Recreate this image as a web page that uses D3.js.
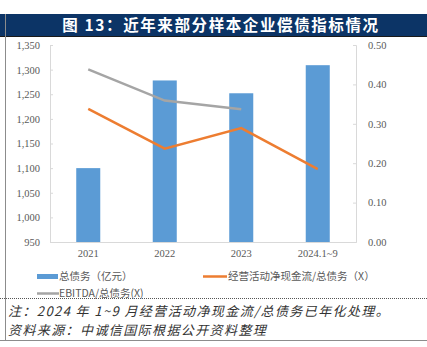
<!DOCTYPE html>
<html><head><meta charset="utf-8">
<script src="https://cdn.jsdelivr.net/npm/d3@7"></script>
<style>body{margin:0;background:#fff}svg{display:block}</style>
</head><body>
<script>
const categories = ["2021","2022","2023","2024.1~9"];
const totalDebt = [1100, 1278, 1252, 1309];
const cashFlowRatio = [0.338, 0.237, 0.289, 0.185];
const ebitdaRatio = [0.438, 0.359, 0.337, null];
const leftTicks = [950,1000,1050,1100,1150,1200,1250,1300,1350];
const rightTicks = [0,0.1,0.2,0.3,0.4,0.5];
const title = "图 13：近年来部分样本企业偿债指标情况";
const legendLabels = ["总债务（亿元）","经营活动净现金流/总债务（X）","EBITDA/总债务(X)"];
const note = "注：2024 年 1~9 月经营活动净现金流/总债务已年化处理。";
const source = "资料来源：中诚信国际根据公开资料整理";

const W = 427, H = 347;
const svg = d3.select("body").append("svg").attr("width", W).attr("height", H);
const cjk = "'Noto Sans CJK SC', sans-serif";
const serif = "'Liberation Serif', 'DejaVu Serif', serif";

// frame
svg.append("rect").attr("x",0).attr("y",14).attr("width",W).attr("height",22).attr("fill","#0c3466");
svg.append("line").attr("x1",0).attr("x2",W).attr("y1",36.5).attr("y2",36.5).attr("stroke","#1a1a1a").attr("stroke-width",1);
svg.append("line").attr("x1",5.5).attr("x2",5.5).attr("y1",14).attr("y2",340).attr("stroke","#8c8c8c").attr("stroke-width",1);
svg.append("line").attr("x1",0).attr("x2",W).attr("y1",298.5).attr("y2",298.5).attr("stroke","#555").attr("stroke-width",1).attr("stroke-dasharray","1,1");
svg.append("line").attr("x1",0).attr("x2",W).attr("y1",340.5).attr("y2",340.5).attr("stroke","#8c8c8c").attr("stroke-width",1.2);

svg.append("text").attr("x",221).attr("y",30.5).attr("text-anchor","middle")
  .attr("fill","#fff").attr("font-family",cjk).attr("font-weight","bold").attr("font-size",15.5)
  .attr("letter-spacing",1.6).text(title);

// scales
const x = d3.scaleBand().domain(categories).range([50,356]).paddingInner(0.686).paddingOuter(0.343);
const yL = d3.scaleLinear().domain([950,1350]).range([242,45]);
const yR = d3.scaleLinear().domain([0,0.5]).range([242,45]);

// axes
const axL = svg.append("g").attr("transform","translate(50,0)")
  .call(d3.axisLeft(yL).tickValues(leftTicks).tickFormat(d3.format(",")).tickSize(-3).tickPadding(10));
const axR = svg.append("g").attr("transform","translate(356,0)")
  .call(d3.axisRight(yR).tickValues(rightTicks).tickFormat(d3.format(".2f")).tickSize(-3).tickPadding(12));
[axL,axR].forEach(a=>{
  a.attr("font-family",serif);
  a.select(".domain").attr("stroke","#d9d9d9");
  a.selectAll(".tick line").attr("stroke","#d9d9d9");
  a.selectAll("text").attr("fill","#595959").attr("font-family",serif).attr("font-size",10.5);
});
const axB = svg.append("g").attr("transform","translate(0,242)").attr("font-family",serif)
  .call(d3.axisBottom(x).tickSize(0).tickPadding(8));
axB.select(".domain").attr("stroke","#d9d9d9");
axB.selectAll("text").attr("fill","#595959").attr("font-family",serif).attr("font-size",10.5);

// bars
svg.append("g").selectAll("rect").data(totalDebt).join("rect")
  .attr("x",(d,i)=>x(categories[i])).attr("width",x.bandwidth())
  .attr("y",d=>yL(d)).attr("height",d=>yL(950)-yL(d)).attr("fill","#5b9bd5");

// lines
const line = d3.line().defined(d=>d[1]!=null).x(d=>x(d[0])+x.bandwidth()/2).y(d=>yR(d[1]));
svg.append("path").datum(categories.map((c,i)=>[c,ebitdaRatio[i]]))
  .attr("d",line).attr("fill","none").attr("stroke","#a5a5a5").attr("stroke-width",2.5);
svg.append("path").datum(categories.map((c,i)=>[c,cashFlowRatio[i]]))
  .attr("d",line).attr("fill","none").attr("stroke","#ed7d31").attr("stroke-width",2.5);

// legend
const lg = svg.append("g").attr("font-family",cjk).attr("font-size",10.5).attr("fill","#595959");
lg.append("rect").attr("x",37).attr("y",274).attr("width",21).attr("height",5).attr("fill","#5b9bd5");
lg.append("text").attr("x",59).attr("y",280).attr("fill","#595959").text(legendLabels[0]);
lg.append("line").attr("x1",203).attr("x2",227).attr("y1",276.5).attr("y2",276.5).attr("stroke","#ed7d31").attr("stroke-width",2.5);
lg.append("text").attr("x",228).attr("y",280).attr("fill","#595959").text(legendLabels[1]);
lg.append("line").attr("x1",37).attr("x2",59).attr("y1",293.5).attr("y2",293.5).attr("stroke","#a5a5a5").attr("stroke-width",2.5);
lg.append("text").attr("x",59).attr("y",297).attr("fill","#595959").text(legendLabels[2]);

// notes
svg.append("text").attr("x",8).attr("y",316).attr("font-family",cjk).attr("font-style","italic")
  .attr("font-size",13).attr("fill","#333").attr("letter-spacing",1.4).text(note);
svg.append("text").attr("x",8).attr("y",335).attr("font-family",cjk).attr("font-style","italic")
  .attr("font-size",13).attr("fill","#333").attr("letter-spacing",1.4).text(source);
</script>
</body></html>
